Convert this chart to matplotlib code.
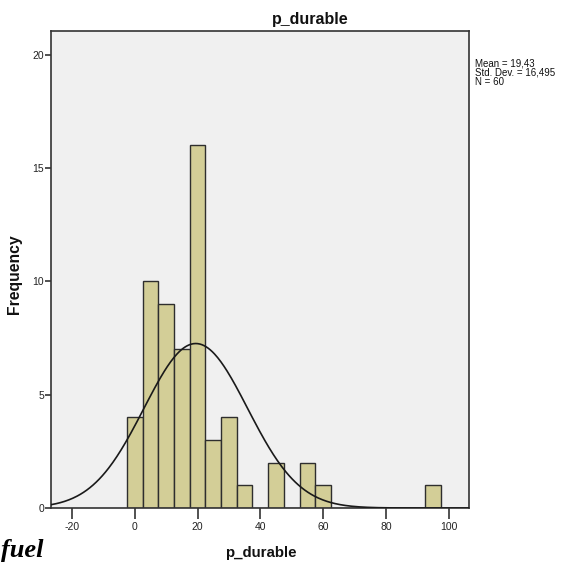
import numpy as np
import matplotlib
matplotlib.use("Agg")
import matplotlib.pyplot as plt

# Data (bin centres, width 5)
bin_centers = [0, 5, 10, 15, 20, 25, 30, 35, 40, 45, 50, 55, 60, 65, 70, 75, 80, 85, 90, 95]
counts      = [4, 10, 9, 7, 16, 3, 4, 1, 0, 2, 0, 2, 1, 0, 0, 0, 0, 0, 0, 1]
bin_width = 5
mean_val = 19.43
std_val = 16.495
n_val = 60
x_ticks = [-20, 0, 20, 40, 60, 80, 100]
y_ticks = [0, 5, 10, 15, 20]

plt.rcParams['font.family'] = ['Liberation Sans', 'DejaVu Sans']
plt.rcParams['axes.unicode_minus'] = False

W = 570.0
fig = plt.figure(figsize=(5.7, 5.7), dpi=100)
ax = fig.add_axes([51 / W, 1 - 508 / W, (469.3 - 51) / W, (508 - 31.3) / W])
ax.set_facecolor('#F0F0F0')

ax.bar(bin_centers, counts, width=bin_width, color='#D3CE97',
       edgecolor='#2e2e2e', linewidth=1.0, zorder=2)

xs = np.linspace(-26.7, 106.6, 400)
ys = n_val * bin_width / (std_val * np.sqrt(2 * np.pi)) * np.exp(-0.5 * ((xs - mean_val) / std_val) ** 2)
ax.plot(xs, ys, color='#1a1a1a', linewidth=1.2, zorder=3)

ax.set_xlim(-26.7, 106.6)
ax.set_ylim(0, 21.03)
ax.set_xticks(x_ticks)
ax.set_yticks(y_ticks)
ax.tick_params(axis='x', direction='out', length=8, width=1.2, color='#333333',
               labelsize=7.5, labelcolor='#222222', pad=2)
ax.tick_params(axis='y', direction='out', length=4, width=1.2, color='#333333',
               labelsize=7.5, labelcolor='#222222', pad=1)
for s in ax.spines.values():
    s.set_color('#333333')
    s.set_linewidth(1.2)

# Title centred over the whole chart (SPSS style)
fig.text(310 / W, 1 - 24 / W, 'p_durable', fontsize=11.5, fontweight='bold',
         ha='center', va='baseline', color='#111111')
fig.text(260.5 / W, 1 - 557 / W, 'p_durable', fontsize=10.8, fontweight='bold',
         ha='center', va='baseline', color='#111111')
fig.text(15 / W, 1 - 274 / W, 'Frequency', fontsize=11.3, fontweight='bold',
         rotation=90, ha='center', va='center', color='#111111')

fig.text(475 / W, 1 - 58 / W, 'Mean = 19,43\nStd. Dev. = 16,495\nN = 60',
         fontsize=7, va='top', ha='left', linespacing=0.95, color='#111111')

fig.text(1 / W, 1 - 557 / W, 'fuel', fontsize=19, fontweight='bold',
         fontstyle='italic', family=['Liberation Serif', 'DejaVu Serif'],
         ha='left', va='baseline')

fig.savefig('out.png', dpi=100, facecolor='white')
